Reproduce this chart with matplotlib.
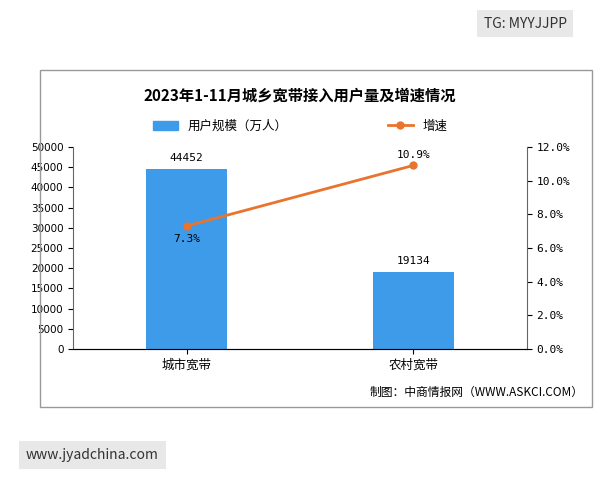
import numpy as np
from matplotlib import pyplot as plt
from matplotlib.patches import Rectangle
from matplotlib.lines import Line2D

plt.rcParams['font.family'] = ['Noto Sans CJK SC', 'DejaVu Sans']

categories = ["城市宽带", "农村宽带"]
users = [44452, 19134]
growth = [7.3, 10.9]

c_bar = "#3d9be9"
c_line = "#e8742e"

fig = plt.figure(figsize=(6, 4.8), dpi=100)
fig.patches.append(Rectangle((0.067, 0.152), 0.92, 0.702, transform=fig.transFigure,
                             fill=False, edgecolor="#999999", lw=1))

ax = fig.add_axes([0.122, 0.273, 0.756, 0.421])
x = np.arange(len(categories))
ax.bar(x, users, width=0.36, color=c_bar)
for xi, v in zip(x, users):
    ax.text(xi, v + 1500, str(v), ha="center", va="bottom", fontsize=8, family="DejaVu Sans Mono")
ax.set_xlim(-0.5, 1.5)
ax.set_ylim(0, 50000)
ax.set_yticks(np.arange(0, 50001, 5000))
ax.set_xticks(x)
ax.set_xticklabels(categories, fontsize=9)
ax.tick_params(axis="y", labelsize=7.5)
for lab in ax.get_yticklabels():
    lab.set_family("DejaVu Sans")
for s in ["top", "right"]:
    ax.spines[s].set_visible(False)
ax.spines["left"].set_color("#666666")
ax.spines["bottom"].set_color("#666666")

ax2 = ax.twinx()
ax2.plot(x, growth, color=c_line, marker="o", markersize=5, lw=2)
ax2.set_ylim(0, 12)
ax2.set_yticks(np.arange(0, 12.1, 2))
ax2.set_yticklabels([f"{v:.1f}%" for v in np.arange(0, 12.1, 2)], fontsize=8,
                    family="DejaVu Sans Mono")
for s in ["top", "left"]:
    ax2.spines[s].set_visible(False)
ax2.spines["right"].set_color("#666666")
ax2.text(x[0], growth[0] - 0.5, "7.3%", ha="center", va="top", fontsize=8, family="DejaVu Sans Mono")
ax2.text(x[1], growth[1] + 0.3, "10.9%", ha="center", va="bottom", fontsize=8, family="DejaVu Sans Mono")

fig.text(0.5, 0.80, "2023年1-11月城乡宽带接入用户量及增速情况", ha="center", va="center",
         fontsize=11, fontweight="bold")
handles = [Rectangle((0, 0), 1, 1, color=c_bar),
           Line2D([], [], color=c_line, marker="o", lw=2, markersize=5)]
fig.legend(handles, ["用户规模（万人）", "增速"], loc="center", bbox_to_anchor=(0.5, 0.737),
           ncol=2, frameon=False, fontsize=9, columnspacing=8)
fig.text(0.972, 0.183, "制图：中商情报网（WWW.ASKCI.COM）", ha="right", va="center", fontsize=8.5)

fig.text(0.875, 0.951, "TG: MYYJJPP", ha="center", va="center", fontsize=10, color="#333333",
         bbox=dict(boxstyle="square,pad=0.5", fc="#e8e8e8", ec="none"))
fig.text(0.154, 0.052, "www.jyadchina.com", ha="center", va="center", fontsize=10, color="#333333",
         bbox=dict(boxstyle="square,pad=0.5", fc="#e8e8e8", ec="none"))

plt.savefig("out.png", dpi=100)
